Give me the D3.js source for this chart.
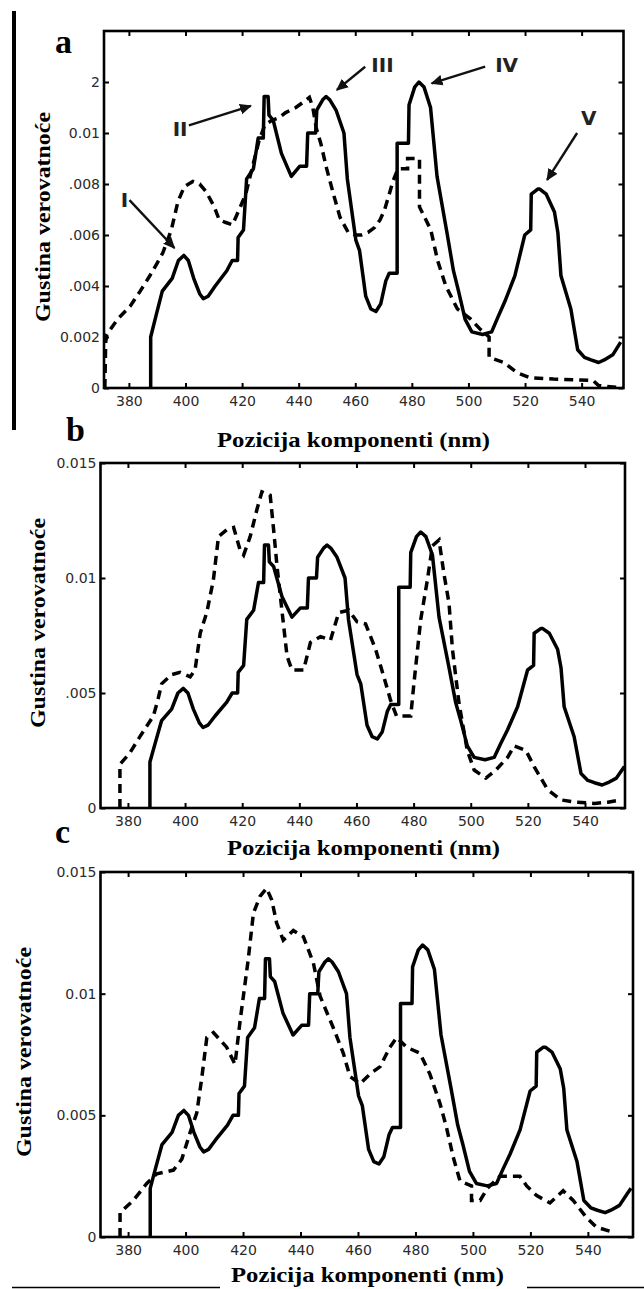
<!DOCTYPE html>
<html><head><meta charset="utf-8">
<script src="https://cdn.jsdelivr.net/npm/d3@7"></script>
<style>
html,body{margin:0;padding:0;background:#fff;}
svg{display:block;}
</style></head>
<body>
<svg id="chart" width="644" height="1289"></svg>
<script>
// ---------- data ----------
const xTickValues = [380, 400, 420, 440, 460, 480, 500, 520, 540];
const xTickLabels = ["380", "400", "420", "440", "460", "480", "500", "520", "540"];

const yTickValuesA = [0, 0.002, 0.004, 0.006, 0.008, 0.01, 0.012];
const yTickLabelsA = ["0", "0.002", ".004", ".006", ".008", "0.01", "2"];
const yTickValuesB = [0, 0.005, 0.01, 0.015];
const yTickLabelsB = ["0", ".005", "0.01", "0.015"];
const yTickValuesC = [0, 0.005, 0.01, 0.015];
const yTickLabelsC = ["0", "0.005", "0.01", "0.015"];

const panelLetters = ["a", "b", "c"];
const xTitle = "Pozicija komponenti (nm)";
const yTitle = "Gustina verovatnoće";
const peakLabels = ["I", "II", "III", "IV", "V"];

// solid curve (same in all panels)
const solidX = [387.7,387.7,389.5,391.8,395.3,397.5,399.4,401,402.9,405,406.3,408,410.5,414.6,416.5,418.4,418.6,420.5,421.6,424,425.7,427.5,427.8,429.2,429.5,431,433.9,437.4,440.4,442.8,443.2,446,446.4,448.5,449.7,451,453.2,456,457.2,460.2,461.5,463.7,465.5,467.3,469,470.8,472,474.8,474.8,478.8,479,481,482.5,484.3,486.6,488.9,492.4,494.7,496.5,498.8,501.2,505,508.2,510.5,512.9,516.4,519.9,522,522.2,524.5,525.2,527.5,530.4,531.6,532.7,536.2,538.6,541,543.3,546,548,551,553.8,555];
const solidY = [0,0.002,0.0028,0.0038,0.0043,0.0050,0.0052,0.0050,0.0043,0.0037,0.0035,0.0036,0.0040,0.0046,0.0050,0.0050,0.0059,0.0062,0.0082,0.0086,0.0098,0.0098,0.01143,0.01143,0.0107,0.0105,0.0092,0.0083,0.0087,0.0087,0.0100,0.0100,0.0109,0.0113,0.01143,0.0113,0.0109,0.0100,0.0082,0.0058,0.0054,0.0036,0.0031,0.0030,0.0033,0.0042,0.0045,0.0045,0.0096,0.0096,0.0111,0.0118,0.0120,0.0118,0.0110,0.0083,0.0061,0.0046,0.0038,0.0027,0.0022,0.0021,0.0022,0.0028,0.0034,0.0044,0.0060,0.0062,0.0076,0.0078,0.0078,0.0076,0.0069,0.0061,0.0044,0.0031,0.0015,0.0012,0.0011,0.0010,0.0011,0.0013,0.0018,0.0020];

// dashed curve, panel a
const dashAX = [371.5,371.8,372.2,376,380.4,384,387.4,390,392,395,397.3,399.6,402.6,405,407.3,410.2,411.9,414,416.6,419,421.3,423.5,426,428,430.5,433,435.4,439,441.5,443.8,445,446.2,447.8,449.9,452.3,454.6,457.5,460,462.2,464.5,466.9,468.8,470.4,472,473.3,475.1,478.5,478.5,482.7,482.7,484.5,486.7,489.1,492,496.1,500.8,504.2,507.3,507.3,512.5,517.2,521.9,530,544,546,550,554.8];
const dashAY = [0,0.0018,0.0021,0.0027,0.0032,0.0038,0.0044,0.0049,0.0053,0.0062,0.0073,0.0079,0.0081,0.0080,0.0077,0.0071,0.0066,0.0065,0.0064,0.0070,0.0076,0.0086,0.0097,0.0103,0.0105,0.0106,0.0108,0.0110,0.0112,0.0114,0.0110,0.0102,0.0096,0.0086,0.0076,0.0067,0.0061,0.0060,0.0060,0.0061,0.0063,0.0066,0.0070,0.0076,0.0081,0.0086,0.0086,0.0090,0.0090,0.0071,0.0067,0.0062,0.0050,0.0040,0.0031,0.0027,0.0023,0.0020,0.0012,0.0010,0.0006,0.0004,0.00035,0.0003,0.0001,0.00005,0];

// dashed curve, panel b
const dashBX = [377.2,377.2,380.7,384.2,388.9,390.5,391.8,395.3,398.2,401.8,403.5,405.3,407.6,409.9,411.7,414.6,417,419.3,420.5,422.8,425.2,426.9,429.8,431,432.2,433.9,435.7,437.4,441.5,443.9,447.4,450.9,453.8,457.3,460.2,463.2,466.7,469.6,471.9,474,479,480.1,482.5,484.8,486.6,488.9,490.6,492.4,493.6,495.9,498.8,501.2,505.3,508.8,512.9,515.2,519.3,522.2,526.9,531.6,537,543.3,548,552.6];
const dashBY = [0,0.0019,0.0024,0.0031,0.0040,0.0047,0.0054,0.0058,0.0059,0.0057,0.0060,0.0076,0.0085,0.0099,0.0118,0.0121,0.0122,0.0112,0.0110,0.0118,0.0130,0.01375,0.0136,0.0121,0.0105,0.0086,0.0066,0.0060,0.0060,0.0072,0.00745,0.0073,0.0085,0.0086,0.0081,0.0080,0.0069,0.0057,0.0047,0.0040,0.0040,0.0054,0.0082,0.0099,0.0114,0.01165,0.0102,0.0089,0.0069,0.00455,0.0025,0.00165,0.0013,0.00165,0.0022,0.0027,0.0025,0.0018,0.0008,0.00035,0.00025,0.0002,0.00025,0.00035];

// dashed curve, panel c
const dashCX = [377.2,377.2,381.8,386.5,390,395.8,398.7,401.6,403.9,405.6,407.4,409.7,414.3,417.2,419,421.8,423.6,425.9,428.2,430,431.7,434,437.5,441,444.5,446.8,451.4,454.9,457.2,460.7,464.2,467.7,471.1,473.5,476.9,481.6,485,488.5,490.8,493.1,495.5,499.5,499.5,502.5,505,509.4,516.3,518.7,522.2,526.8,531.4,534.9,539.5,543,548.8];
const dashCY = [0,0.0010,0.0015,0.0022,0.0026,0.00275,0.0032,0.0043,0.0051,0.0065,0.0082,0.0084,0.0078,0.0071,0.0089,0.0114,0.0133,0.0140,0.01433,0.01385,0.0129,0.0122,0.0126,0.01234,0.01125,0.0099,0.0086,0.00755,0.0066,0.0063,0.0067,0.0070,0.0078,0.0082,0.0078,0.00755,0.0067,0.0055,0.0045,0.0033,0.0023,0.0021,0.0015,0.0015,0.0020,0.0025,0.0025,0.0021,0.0017,0.0014,0.0019,0.0015,0.0008,0.0004,0.0002];

// peak annotations on panel a: arrow tip, arrow tail, label centre (nm, value)
const peakTargetX = [396.1, 423.1, 453.5, 487.0, 527.8];
const peakTargetY = [0.00549, 0.01106, 0.01169, 0.01195, 0.00816];
const peakTailX = [380.2, 401.2, 463.5, 505.9, 538.4];
const peakTailY = [0.00737, 0.0103, 0.0126, 0.0126, 0.0100];
const peakTextX = [378.4, 398.1, 469.6, 513.5, 542.5];
const peakTextY = [0.00737, 0.01014, 0.01267, 0.01267, 0.01057];

// ---------- layout ----------
const panels = [
  {box:[104, 623.5, 31, 388], xdom:[371.2, 554.8], ydom:[0, 0.014], yt:yTickValuesA, yl:yTickLabelsA,
   dx:dashAX, dy:dashAY, letter:[55, 53], xtitle:[353.5, 447], ytitle:[50, 217]},
  {box:[100.5, 625, 463, 808], xdom:[370.4, 554.0], ydom:[0, 0.015], yt:yTickValuesB, yl:yTickLabelsB,
   dx:dashBX, dy:dashBY, letter:[66, 441], xtitle:[363.5, 855], ytitle:[45, 623]},
  {box:[100.5, 633, 872, 1237], xdom:[370.4, 555.7], ydom:[0, 0.015], yt:yTickValuesC, yl:yTickLabelsC,
   dx:dashCX, dy:dashCY, letter:[55, 843], xtitle:[367.5, 1282], ytitle:[31, 1052]}
];

const svg = d3.select("#chart");
svg.append("rect").attr("width", 644).attr("height", 1289).attr("fill", "#fff");

// decorative rules from the original page
svg.append("line").attr("x1", 14).attr("x2", 14).attr("y1", 11).attr("y2", 430)
  .attr("stroke", "#000").attr("stroke-width", 4);
svg.append("line").attr("x1", 12).attr("x2", 220).attr("y1", 1287.5).attr("y2", 1287.5)
  .attr("stroke", "#000").attr("stroke-width", 1.5);
svg.append("line").attr("x1", 527).attr("x2", 644).attr("y1", 1287.5).attr("y2", 1287.5)
  .attr("stroke", "#000").attr("stroke-width", 1.5);

svg.append("defs").append("marker").attr("id", "arrow")
  .attr("viewBox", "0 0 10 10").attr("refX", 9).attr("refY", 5)
  .attr("markerWidth", 5).attr("markerHeight", 5).attr("orient", "auto")
  .append("path").attr("d", "M0,0.5 L10,5 L0,9.5 z").attr("fill", "#111");

const tickFont = "'DejaVu Sans', sans-serif";

panels.forEach((p, pi) => {
  const [L, R, T, B] = p.box;
  const x = d3.scaleLinear().domain(p.xdom).range([L, R]);
  const y = d3.scaleLinear().domain(p.ydom).range([B, T]);
  const g = svg.append("g");

  // axes (inward ticks, mirrored on top/right)
  const xb = g.append("g").attr("transform", `translate(0,${B})`)
    .call(d3.axisBottom(x).tickValues(xTickValues).tickFormat((d, i) => xTickLabels[i])
      .tickSizeInner(-5).tickSizeOuter(0).tickPadding(6));
  const xt = g.append("g").attr("transform", `translate(0,${T})`)
    .call(d3.axisTop(x).tickValues(xTickValues).tickFormat("").tickSizeInner(-5).tickSizeOuter(0));
  const yl = g.append("g").attr("transform", `translate(${L},0)`)
    .call(d3.axisLeft(y).tickValues(p.yt).tickFormat((d, i) => p.yl[i])
      .tickSizeInner(-5).tickSizeOuter(0).tickPadding(4));
  const yr = g.append("g").attr("transform", `translate(${R},0)`)
    .call(d3.axisRight(y).tickValues(p.yt).tickFormat("").tickSizeInner(-5).tickSizeOuter(0));
  [xb, xt, yl, yr].forEach(a => {
    a.select(".domain").remove();
    a.selectAll(".tick line").attr("stroke", "#000").attr("stroke-width", 2);
    a.selectAll("text").attr("font-family", tickFont).attr("font-size", 14).attr("fill", "#2a2a2a");
  });
  xb.selectAll("text").attr("dy", "0.85em");

  // curves
  const line = d3.line().x(d => x(d[0])).y(d => y(d[1]));
  const solid = solidX.map((v, i) => [v, solidY[i]]).filter(d => d[0] <= p.xdom[1]);
  const dash = p.dx.map((v, i) => [v, p.dy[i]]).filter(d => d[0] <= p.xdom[1]);
  const clipId = "clip" + pi;
  g.append("clipPath").attr("id", clipId).append("rect")
    .attr("x", L).attr("y", T).attr("width", R - L).attr("height", B - T);
  g.append("path").datum(dash).attr("d", line).attr("clip-path", `url(#${clipId})`)
    .attr("fill", "none").attr("stroke", "#000").attr("stroke-width", 3.5)
    .attr("stroke-dasharray", "9,6").attr("stroke-linejoin", "miter");
  g.append("path").datum(solid).attr("d", line).attr("clip-path", `url(#${clipId})`)
    .attr("fill", "none").attr("stroke", "#000").attr("stroke-width", 3.5)
    .attr("stroke-linejoin", "round");

  // frame
  g.append("rect").attr("x", L).attr("y", T).attr("width", R - L).attr("height", B - T)
    .attr("fill", "none").attr("stroke", "#000").attr("stroke-width", 2.6);

  // titles
  g.append("text").attr("x", p.xtitle[0]).attr("y", p.xtitle[1]).attr("text-anchor", "middle")
    .attr("font-family", "'Liberation Serif', serif").attr("font-weight", "bold").attr("font-size", 22)
    .attr("textLength", 273).attr("lengthAdjust", "spacingAndGlyphs").text(xTitle);
  g.append("text").attr("transform", `translate(${p.ytitle[0]},${p.ytitle[1]}) rotate(-90)`)
    .attr("text-anchor", "middle")
    .attr("font-family", "'Liberation Serif', serif").attr("font-weight", "bold").attr("font-size", 20)
    .attr("textLength", 210).attr("lengthAdjust", "spacingAndGlyphs").text(yTitle);
  g.append("text").attr("x", p.letter[0]).attr("y", p.letter[1])
    .attr("font-family", "'Liberation Serif', serif").attr("font-weight", "bold").attr("font-size", 34)
    .text(panelLetters[pi]);

  // peak annotations on panel a
  if (pi === 0) {
    peakLabels.forEach((lab, i) => {
      g.append("line")
        .attr("x1", x(peakTailX[i])).attr("y1", y(peakTailY[i]))
        .attr("x2", x(peakTargetX[i])).attr("y2", y(peakTargetY[i]))
        .attr("stroke", "#111").attr("stroke-width", 2.4).attr("marker-end", "url(#arrow)");
      g.append("text").attr("x", x(peakTextX[i])).attr("y", y(peakTextY[i]))
        .attr("text-anchor", "middle").attr("dominant-baseline", "central")
        .attr("font-family", "'DejaVu Sans', sans-serif").attr("font-weight", "bold")
        .attr("font-size", 20).attr("fill", "#222").text(lab);
    });
  }
});
</script>
</body></html>
